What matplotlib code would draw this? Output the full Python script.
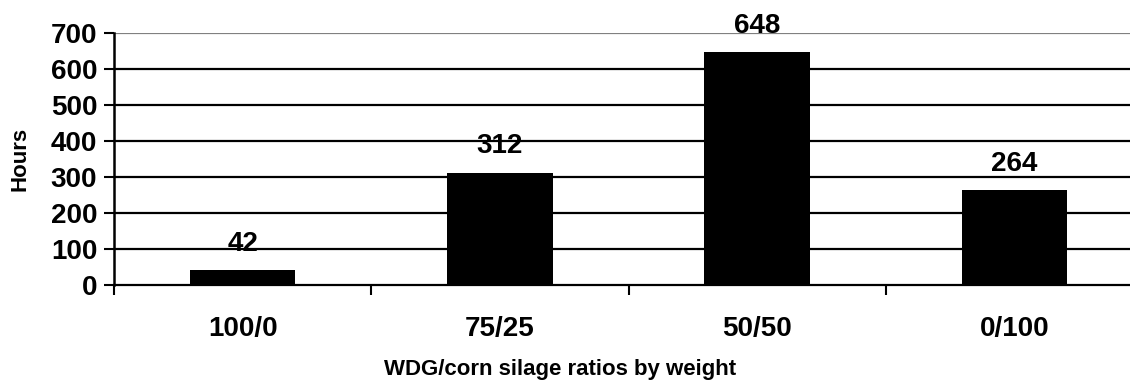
import matplotlib.pyplot as plt
import numpy as np

plt.rcParams["font.family"] = ["Liberation Sans", "DejaVu Sans"]
plt.rcParams["font.weight"] = "bold"

categories = ["100/0", "75/25", "50/50", "0/100"]
hours = [42, 312, 648, 264]
yticks = [0, 100, 200, 300, 400, 500, 600, 700]

fig = plt.figure(figsize=(11.3, 3.81), dpi=100)
ax = fig.add_axes([114 / 1130, 96 / 381, 1029 / 1130, 252 / 381])

x = np.arange(len(categories))
for y in yticks[1:]:
    ax.axhline(y, color="#808080" if y == 700 else "black", linewidth=1.6, zorder=1)
bars = ax.bar(x, hours, width=0.41, color="black", zorder=2)

for xi, h in zip(x, hours):
    ax.annotate(str(h), (xi, h), xytext=(0, 9.5), textcoords="offset points",
                ha="center", va="bottom", fontsize=20, fontweight="bold")

ax.set_xlim(-0.5, 3.5)
ax.set_ylim(0, 700)
ax.set_yticks(yticks)
ax.set_yticklabels([str(t) for t in yticks], fontsize=20, fontweight="bold")
ax.set_xticks(x)
ax.set_xticklabels(categories, fontsize=20, fontweight="bold")
ax.set_xticks(np.arange(-0.5, 3.6, 1.0), minor=True)
ax.tick_params(axis="x", which="major", length=0, pad=22)
ax.tick_params(axis="x", which="minor", length=7, width=1.5, direction="out")
ax.tick_params(axis="y", length=7, width=1.5, direction="out", pad=5)

for s in ["top", "right"]:
    ax.spines[s].set_visible(False)
ax.spines["left"].set_linewidth(1.8)
ax.spines["bottom"].set_linewidth(1.6)

ax.set_ylabel("Hours", fontsize=16, fontweight="bold", va="center")
ax.yaxis.set_label_coords((20 - 114) / 1029, 0.5)
ax.set_xlabel("WDG/corn silage ratios by weight", fontsize=16, fontweight="bold", va="center")
ax.xaxis.set_label_coords((560 - 114) / 1029, -(369 - 285) / 252)

fig.savefig("out.png", dpi=100)
